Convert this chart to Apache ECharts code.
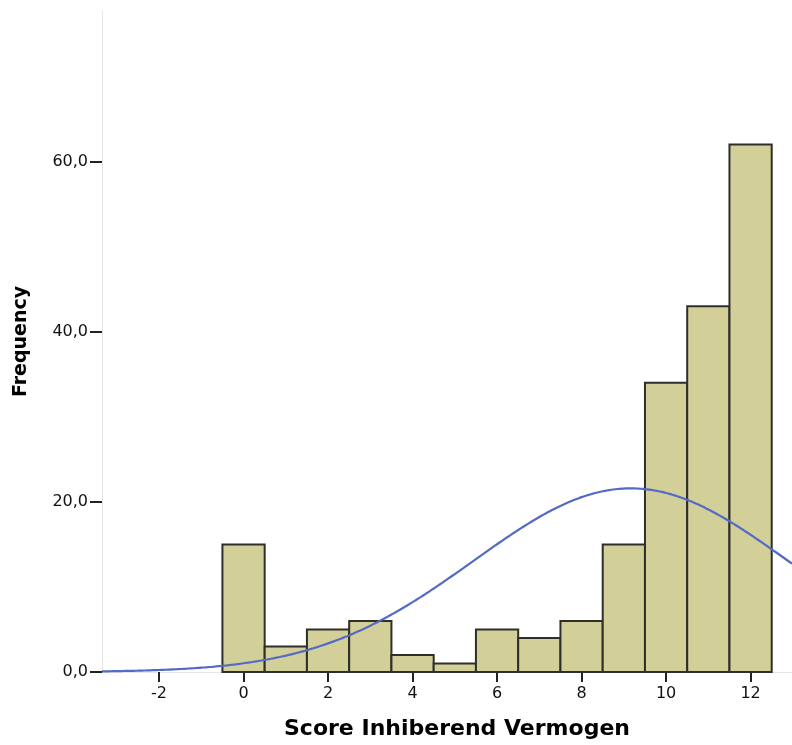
<!DOCTYPE html>
<html>
<head>
<meta charset="utf-8">
<title>Score Inhiberend Vermogen</title>
<script src="https://cdn.jsdelivr.net/npm/echarts@6/dist/echarts.min.js"></script>
<style>
  html, body { margin: 0; padding: 0; background: #ffffff; }
  #chart { width: 792px; height: 745px; }
</style>
</head>
<body>
<div id="chart"></div>
<script>
// Histogram bins (centre of each unit-wide bin) and their frequencies
const binCenters = [0, 1, 2, 3, 4, 5, 6, 7, 8, 9, 10, 11, 12];
const frequencies = [15, 3, 5, 6, 2, 1, 5, 4, 6, 15, 34, 43, 62];
const binWidth = 1;

// Axis tick positions
const xTicks = [-2, 0, 2, 4, 6, 8, 10, 12];
const yTicks = [0, 20, 40, 60];

const xMin = -3.35, xMax = 12.98;
const yMin = 0, yMax = 77.7;

// Fitted normal curve: mean and standard deviation of the binned scores,
// scaled to counts (N * bin width * density)
const n = frequencies.reduce((a, b) => a + b, 0);
const mean = binCenters.reduce((s, x, i) => s + x * frequencies[i], 0) / n;
const variance = binCenters.reduce((s, x, i) => s + frequencies[i] * (x - mean) ** 2, 0) / (n - 1);
const sd = Math.sqrt(variance);
const normalCurve = [];
for (let x = xMin; x <= xMax + 1e-9; x += 0.05) {
  const z = (x - mean) / sd;
  normalCurve.push([x, n * binWidth * Math.exp(-0.5 * z * z) / (sd * Math.sqrt(2 * Math.PI))]);
}
normalCurve.push([xMax, n * binWidth * Math.exp(-0.5 * ((xMax - mean) / sd) ** 2) / (sd * Math.sqrt(2 * Math.PI))]);

const barData = binCenters.map((c, i) => [c, frequencies[i]]);

const chart = echarts.init(document.getElementById('chart'), null, { renderer: 'canvas' });
const font = 'DejaVu Sans';

chart.setOption({
  animation: false,
  backgroundColor: '#ffffff',
  grid: { left: 102, right: 0, top: 11, bottom: 73, containLabel: false },
  xAxis: {
    type: 'value',
    min: xMin,
    max: xMax,
    name: 'Score Inhiberend Vermogen',
    nameLocation: 'middle',
    nameGap: 46,
    nameTextStyle: {
      fontFamily: font, fontWeight: 'bold', fontSize: 22, color: '#000',
      padding: [0, 0, 0, 20]
    },
    axisLine: { show: true, onZero: false, lineStyle: { color: '#e6e6e6', width: 1 } },
    axisTick: { show: true, customValues: xTicks, length: 10, lineStyle: { color: '#222', width: 2 } },
    axisLabel: {
      customValues: xTicks,
      margin: 14,
      fontFamily: font, fontSize: 16, color: '#111'
    },
    splitLine: { show: false }
  },
  yAxis: {
    type: 'value',
    min: yMin,
    max: yMax,
    name: 'Frequency',
    nameLocation: 'middle',
    nameRotate: 90,
    nameGap: 71,
    nameTextStyle: { fontFamily: font, fontWeight: 'bold', fontSize: 19, color: '#000' },
    axisLine: { show: true, onZero: false, lineStyle: { color: '#e6e6e6', width: 1 } },
    axisTick: { show: true, customValues: yTicks, length: 12, lineStyle: { color: '#222', width: 2 } },
    axisLabel: {
      customValues: yTicks,
      margin: 14,
      fontFamily: font, fontSize: 16, color: '#111',
      formatter: v => v.toFixed(1).replace('.', ',')
    },
    splitLine: { show: false }
  },
  series: [
    {
      type: 'custom',
      name: 'Frequency',
      data: barData,
      encode: { x: 0, y: 1 },
      z: 2,
      renderItem: (params, api) => {
        const c = api.value(0);
        const v = api.value(1);
        const p0 = api.coord([c - binWidth / 2, v]);
        const p1 = api.coord([c + binWidth / 2, 0]);
        return {
          type: 'rect',
          shape: { x: p0[0], y: p0[1], width: p1[0] - p0[0], height: p1[1] - p0[1] },
          style: { fill: '#d3cf98', stroke: '#2e2e2a', lineWidth: 2 }
        };
      }
    },
    {
      type: 'line',
      name: 'Normal',
      data: normalCurve,
      showSymbol: false,
      smooth: false,
      z: 3,
      clip: true,
      lineStyle: { color: '#5569c6', width: 2.2 }
    }
  ]
});
</script>
</body>
</html>
